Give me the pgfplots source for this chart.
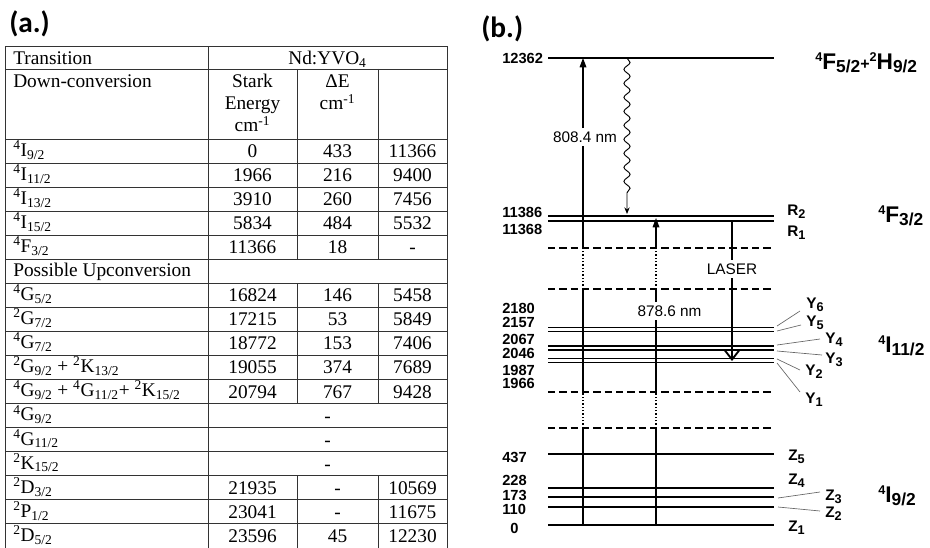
\documentclass[border=0pt]{standalone}
\usepackage{fontspec}
\setmainfont{Liberation Serif}
\setsansfont{Liberation Sans}
\newfontfamily\carlito{Carlito}
\usepackage{pgfplots}
\pgfplotsset{compat=1.18}
\usetikzlibrary{arrows.meta,decorations.pathmorphing}

\newcommand\rowh{24.05}
\newcommand\tlab[2]{%
  \pgfmathsetmacro\yy{139+\rowh*(#1+0.5)+5.4}%
  \node[anchor=base west, inner sep=0pt] at (13,\yy) {#2};}
\newcommand\tval[3]{%
  \pgfmathsetmacro\yy{139+\rowh*(#1+0.5)+6.5}%
  \node[anchor=base, inner sep=0pt] at (#2,\yy) {#3};}
\newcommand\trow[5]{\tlab{#1}{#2}\tval{#1}{252.5}{#3}\tval{#1}{337.5}{#4}\tval{#1}{412.5}{#5}}
\newcommand\myup[1]{\textsuperscript{#1}}
\newcommand\mydn[1]{\textsubscript{#1}}
% sans labels of the diagram
\newcommand\ldn[1]{\raisebox{-2.5pt}{\fontsize{9.5}{10}\selectfont #1}}
\newcommand\gup[1]{\raisebox{5.4pt}{\fontsize{9.5}{10}\selectfont #1}}
\newcommand\gdn[1]{\raisebox{-2.5pt}{\fontsize{13}{14}\selectfont #1}}
\newcommand\gpl{{\fontsize{12}{13}\selectfont +}}

\tikzset{
  lev/.style={black, line width=1.1pt},
  dsh/.style={black, line width=1.1pt, dash pattern=on 5.5pt off 3pt},
  vsol/.style={black, line width=0.9pt},
  vdot/.style={black, line width=0.9pt, dash pattern=on 1pt off 1.5pt},
  lead/.style={black!60, line width=0.5pt},
  lab/.style={anchor=west, inner sep=0pt, font=\fontsize{11.5}{13}\selectfont\sffamily\bfseries},
  grp/.style={anchor=west, inner sep=0pt, font=\fontsize{17}{18}\selectfont\sffamily\bfseries},
  wl/.style={inner sep=0pt, font=\fontsize{11.5}{13}\selectfont\sffamily},
}

\begin{document}
\begin{tikzpicture}[x=0.75pt,y=-0.75pt,font=\fontsize{14.5}{17}\selectfont]
\useasboundingbox (0,0) rectangle (930,548);

% ---------------- (a.) table ----------------
\node[anchor=west, inner sep=0pt, font=\carlito\bfseries\fontsize{22}{24}\selectfont] at (9,24) {(a.)};
\begin{scope}[line width=0.7pt, draw=black!80]
  \draw (5,46.5) -- (447,46.5);
  \draw (5,69) -- (447,69);
  \foreach \k in {0,...,16} \draw (5,{139+\rowh*\k}) -- (447,{139+\rowh*\k});
  \draw (5,46.5) -- (5,560);
  \draw (447,46.5) -- (447,560);
  \draw (208,46.5) -- (208,560);
  \foreach \xx in {297,378} {
    \draw (\xx,69) -- (\xx,{139+\rowh*5});
    \draw (\xx,{139+\rowh*6}) -- (\xx,{139+\rowh*11});
    \draw (\xx,{139+\rowh*14}) -- (\xx,560);
  }
\end{scope}
\node[anchor=base west, inner sep=0pt] at (13,64.5) {Transition};
\node[anchor=base, inner sep=0pt] at (327.5,64.5) {Nd:YVO\mydn{4}};
\node[anchor=base west, inner sep=0pt] at (13,88) {Down-conversion};
\node[anchor=base, inner sep=0pt] at (252.5,88) {Stark};
\node[anchor=base, inner sep=0pt] at (252.5,110) {Energy};
\node[anchor=base, inner sep=0pt] at (252.5,132) {cm\myup{-1}};
\node[anchor=base, inner sep=0pt] at (337.5,88) {ΔE};
\node[anchor=base, inner sep=0pt] at (337.5,110) {cm\myup{-1}};

\trow{0}{\myup{4}I\mydn{9/2}}{0}{433}{11366}
\trow{1}{\myup{4}I\mydn{11/2}}{1966}{216}{9400}
\trow{2}{\myup{4}I\mydn{13/2}}{3910}{260}{7456}
\trow{3}{\myup{4}I\mydn{15/2}}{5834}{484}{5532}
\trow{4}{\myup{4}F\mydn{3/2}}{11366}{18}{-}
\tlab{5}{Possible Upconversion}
\trow{6}{\myup{4}G\mydn{5/2}}{16824}{146}{5458}
\trow{7}{\myup{2}G\mydn{7/2}}{17215}{53}{5849}
\trow{8}{\myup{4}G\mydn{7/2}}{18772}{153}{7406}
\trow{9}{\myup{2}G\mydn{9/2} + \myup{2}K\mydn{13/2}}{19055}{374}{7689}
\trow{10}{\myup{4}G\mydn{9/2} + \myup{4}G\mydn{11/2}+ \myup{2}K\mydn{15/2}}{20794}{767}{9428}
\tlab{11}{\myup{4}G\mydn{9/2}}\tval{11}{327.5}{-}
\tlab{12}{\myup{4}G\mydn{11/2}}\tval{12}{327.5}{-}
\tlab{13}{\myup{2}K\mydn{15/2}}\tval{13}{327.5}{-}
\trow{14}{\myup{2}D\mydn{3/2}}{21935}{-}{10569}
\trow{15}{\myup{2}P\mydn{1/2}}{23041}{-}{11675}
\trow{16}{\myup{2}D\mydn{5/2}}{23596}{45}{12230}

% ---------------- (b.) diagram ----------------
\node[anchor=west, inner sep=0pt, font=\carlito\bfseries\fontsize{22}{24}\selectfont] at (481,29) {(b.)};
\begin{axis}[
  at={(502,548)}, anchor=south west,
  width=321pt, height=411pt, scale only axis,
  xmin=502, xmax=930, ymin=0, ymax=548, y dir=reverse,
  clip=false,
  axis line style={draw=none}, tick style={draw=none},
  xtick=\empty,
  ytick={58,212,229,308,322,339,353.5,370,383,457,480,495,509,528},
  yticklabels={12362,11386,11368,2180,2157,2067,2046,1987,1966,437,228,173,110,\hphantom{0}0},
  yticklabel style={anchor=west, inner sep=0pt, font=\fontsize{11}{12}\selectfont\sffamily\bfseries},
]
% energy levels (diagram position, labelled by energy in cm^-1)
\addplot[lev] coordinates {(548,58) (774,58)};      % 12362
\addplot[lev] coordinates {(548,216) (774,216)};    % 11386
\addplot[lev] coordinates {(548,221) (774,221)};    % 11368
\addplot[lev] coordinates {(548,327.3) (774,327.3)};% 2180
\addplot[lev] coordinates {(548,331.7) (774,331.7)};% 2157
\addplot[lev] coordinates {(548,346) (774,346)};    % 2067
\addplot[lev] coordinates {(548,350) (774,350)};    % 2046
\addplot[lev] coordinates {(548,358.3) (774,358.3)};% 1987
\addplot[lev] coordinates {(548,362.3) (774,362.3)};% 1966
\addplot[lev] coordinates {(548,454) (774,454)};    % 437
\addplot[lev] coordinates {(548,488) (774,488)};    % 228
\addplot[lev] coordinates {(548,497) (774,497)};    % 173
\addplot[lev] coordinates {(548,507) (774,507)};    % 110
\addplot[lev] coordinates {(548,525) (774,525)};    % 0
% broken-axis dashed lines
\addplot[dsh] coordinates {(548,248) (774,248)};
\addplot[dsh] coordinates {(548,289) (774,289)};
\addplot[dsh] coordinates {(548,392) (774,392)};
\addplot[dsh] coordinates {(548,428) (774,428)};
% 808.4 nm pump
\addplot[vsol] coordinates {(583,525) (583,428)};
\addplot[vdot] coordinates {(583,428) (583,392)};
\addplot[vsol] coordinates {(583,392) (583,289)};
\addplot[vdot] coordinates {(583,289) (583,248)};
\addplot[vsol] coordinates {(583,248) (583,146)};
\addplot[vsol, -{Triangle[length=7pt,width=5pt]}] coordinates {(583,128) (583,58)};
% 878.6 nm pump
\addplot[vsol] coordinates {(656,525) (656,428)};
\addplot[vdot] coordinates {(656,428) (656,392)};
\addplot[vsol] coordinates {(656,392) (656,320)};
\addplot[vsol] coordinates {(656,302) (656,289)};
\addplot[vdot] coordinates {(656,289) (656,248)};
\addplot[vsol, -{Triangle[length=7pt,width=5pt]}] coordinates {(656,248) (656,218)};
% non-radiative relaxation
\addplot[black, line width=0.7pt, decorate,
  decoration={snake, amplitude=2.3pt, segment length=10.5pt, post length=14pt},
  -{Stealth[length=5pt,width=4pt]}] coordinates {(627,58) (627,214)};
% laser
\addplot[black, line width=1.6pt] coordinates {(732,221) (732,260)};
\addplot[black, line width=1.6pt, -{Straight Barb[length=7pt,width=11pt,line width=1.4pt]}] coordinates {(732,278) (732,361)};
\node[wl] at (axis cs:732,269) {LASER};
\node[wl] at (axis cs:585,137) {808.4 nm};
\node[wl] at (axis cs:669.5,311) {878.6 nm};
% leader lines
\addplot[lead] coordinates {(777,326) (800,311)};
\addplot[lead] coordinates {(777,331) (801,325)};
\addplot[lead] coordinates {(777,345) (820,339)};
\addplot[lead] coordinates {(777,351) (822,355)};
\addplot[lead] coordinates {(777,359) (800,370)};
\addplot[lead] coordinates {(777,363) (800,392)};
\addplot[lead] coordinates {(778,498) (820,492)};
\addplot[lead] coordinates {(778,507) (820,511)};
% Stark level labels
\node[lab] at (axis cs:787,212) {R\ldn{2}};
\node[lab] at (axis cs:787,233) {R\ldn{1}};
\node[lab] at (axis cs:806,305) {Y\ldn{6}};
\node[lab] at (axis cs:806,323) {Y\ldn{5}};
\node[lab] at (axis cs:825,340) {Y\ldn{4}};
\node[lab] at (axis cs:825,360) {Y\ldn{3}};
\node[lab] at (axis cs:805,372) {Y\ldn{2}};
\node[lab] at (axis cs:805,400) {Y\ldn{1}};
\node[lab] at (axis cs:788,457) {Z\ldn{5}};
\node[lab] at (axis cs:788,481) {Z\ldn{4}};
\node[lab] at (axis cs:825,497) {Z\ldn{3}};
\node[lab] at (axis cs:825,514) {Z\ldn{2}};
\node[lab] at (axis cs:788,528) {Z\ldn{1}};
% manifold labels
\node[grp] at (axis cs:815,63) {\gup{4}F\gdn{5/2}\gpl\gup{2}H\gdn{9/2}};
\node[grp] at (axis cs:878,216) {\gup{4}F\gdn{3/2}};
\node[grp] at (axis cs:878,346) {\gup{4}I\gdn{11/2}};
\node[grp] at (axis cs:878,496) {\gup{4}I\gdn{9/2}};
\end{axis}
\end{tikzpicture}
\end{document}
